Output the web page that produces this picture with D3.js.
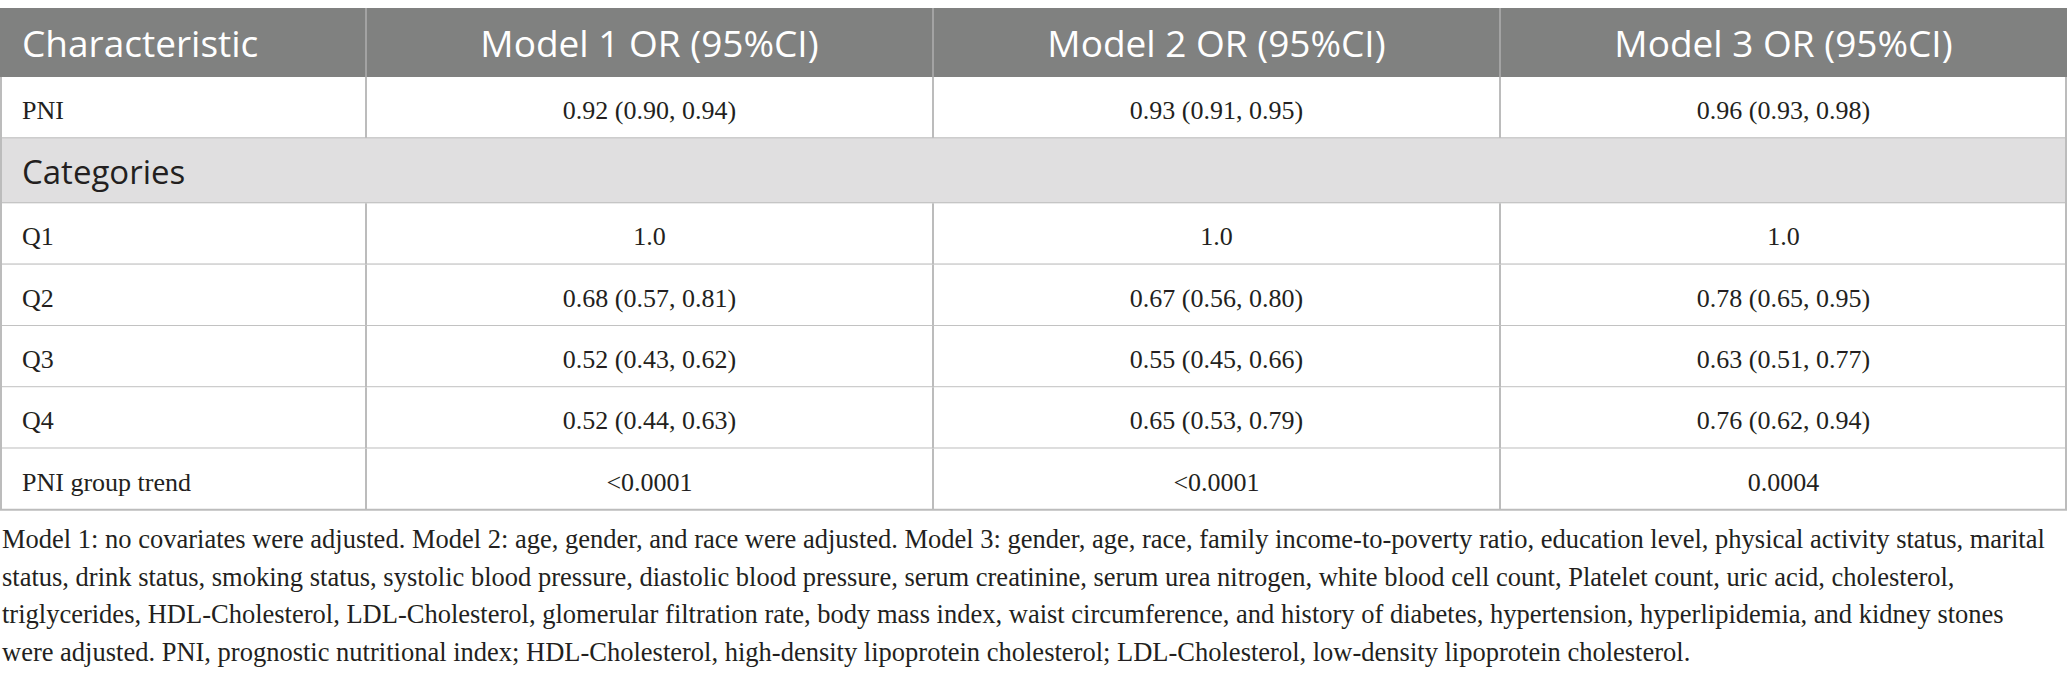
<!DOCTYPE html>
<html>
<head>
<meta charset="utf-8">
<script src="https://cdn.jsdelivr.net/npm/d3@7"></script>
<style>
  html, body { margin: 0; padding: 0; background: #fff; }
</style>
</head>
<body>
<div class="orTable"></div>
<script>
// column headers
let headers = ['Characteristic', 'Model 1 OR (95%CI)', 'Model 2 OR (95%CI)', 'Model 3 OR (95%CI)'];
let models = ['Model 1', 'Model 2', 'Model 3'];

// row labels
let rowLabels = ['PNI', 'Categories', 'Q1', 'Q2', 'Q3', 'Q4', 'PNI group trend'];

// odds ratio, lower and upper CI per row, one entry per model
let pniOR = [[0.92, 0.90, 0.94], [0.93, 0.91, 0.95], [0.96, 0.93, 0.98]];
let q1OR = [[1.0], [1.0], [1.0]];
let q2OR = [[0.68, 0.57, 0.81], [0.67, 0.56, 0.80], [0.78, 0.65, 0.95]];
let q3OR = [[0.52, 0.43, 0.62], [0.55, 0.45, 0.66], [0.63, 0.51, 0.77]];
let q4OR = [[0.52, 0.44, 0.63], [0.65, 0.53, 0.79], [0.76, 0.62, 0.94]];
let trendP = ['<0.0001', '<0.0001', '0.0004'];

let footnote = [
  'Model 1: no covariates were adjusted. Model 2: age, gender, and race were adjusted. Model 3: gender, age, race, family income-to-poverty ratio, education level, physical activity status, marital',
  'status, drink status, smoking status, systolic blood pressure, diastolic blood pressure, serum creatinine, serum urea nitrogen, white blood cell count, Platelet count, uric acid, cholesterol,',
  'triglycerides, HDL-Cholesterol, LDL-Cholesterol, glomerular filtration rate, body mass index, waist circumference, and history of diabetes, hypertension, hyperlipidemia, and kidney stones',
  'were adjusted. PNI, prognostic nutritional index; HDL-Cholesterol, high-density lipoprotein cholesterol; LDL-Cholesterol, low-density lipoprotein cholesterol.'
];

let f2 = d3.format('.2f');
let fmtOR = d => d.length === 1 ? d3.format('.1f')(d[0]) : `${f2(d[0])} (${f2(d[1])}, ${f2(d[2])})`;

let cells = [
  pniOR.map(fmtOR),
  null,
  q1OR.map(fmtOR),
  q2OR.map(fmtOR),
  q3OR.map(fmtOR),
  q4OR.map(fmtOR),
  trendP
];

const W = 2067, H = 679;
const topY = 8, headH = 69, rowH = 61.3, catH = 65, firstW = 366;
const gridColor = '#bcbcbc', ink = '#231f20';

let svg = d3.select('.orTable')
  .append('svg')
  .attr('width', W)
  .attr('height', H);

// row tops
let rowHeights = rowLabels.map(l => l === 'Categories' ? catH : rowH);
let rowTops = [];
rowHeights.reduce((acc, h, i) => { rowTops[i] = acc; return acc + h; }, topY + headH);
let tableBottom = rowTops[rowTops.length - 1] + rowH;

let xModel = d3.scaleBand()
  .domain(models)
  .range([firstW, W]);

// header
svg.append('rect')
  .attr('x', 0).attr('y', topY)
  .attr('width', W).attr('height', headH)
  .attr('fill', '#808180');

svg.selectAll('.hdiv')
  .data(models)
  .enter().append('line')
  .attr('x1', d => xModel(d)).attr('x2', d => xModel(d))
  .attr('y1', topY).attr('y2', topY + headH)
  .attr('stroke', '#a3a3a3').attr('stroke-width', 2);

svg.append('text')
  .attr('x', 22).attr('y', topY + 49)
  .attr('font-family', 'Open Sans')
  .attr('font-size', 37)
  .attr('fill', '#fff')
  .text(headers[0]);

svg.selectAll('.htext')
  .data(models)
  .enter().append('text')
  .attr('x', d => xModel(d) + xModel.bandwidth() / 2)
  .attr('y', topY + 49)
  .attr('text-anchor', 'middle')
  .attr('font-family', 'Open Sans')
  .attr('font-size', 37)
  .attr('fill', '#fff')
  .text((d, i) => headers[i + 1]);

// body rows
let rows = svg.selectAll('.row')
  .data(rowLabels)
  .enter().append('g')
  .attr('transform', (d, i) => `translate(0,${rowTops[i]})`);

rows.append('rect')
  .attr('x', 0).attr('y', 0)
  .attr('width', W)
  .attr('height', (d, i) => rowHeights[i])
  .attr('fill', d => d === 'Categories' ? '#e0dfe0' : '#fff');

rows.append('line')
  .attr('x1', 0).attr('x2', W)
  .attr('y1', (d, i) => rowHeights[i]).attr('y2', (d, i) => rowHeights[i])
  .attr('stroke', gridColor).attr('stroke-width', 2);

rows.append('text')
  .attr('x', 22)
  .attr('y', (d, i) => rowHeights[i] / 2 + (d === 'Categories' ? 13 : 11.5))
  .attr('font-family', d => d === 'Categories' ? 'Open Sans' : 'Liberation Serif')
  .attr('font-size', d => d === 'Categories' ? 33 : 26)
  .attr('fill', ink)
  .text(d => d);

rows.filter((d, i) => cells[i] !== null).each(function (d) {
  let idx = rowLabels.indexOf(d);
  let g = d3.select(this);
  g.selectAll('.vdiv')
    .data(models)
    .enter().append('line')
    .attr('x1', m => xModel(m)).attr('x2', m => xModel(m))
    .attr('y1', 0).attr('y2', rowH)
    .attr('stroke', gridColor).attr('stroke-width', 2);
  g.selectAll('.val')
    .data(cells[idx])
    .enter().append('text')
    .attr('x', (v, j) => xModel(models[j]) + xModel.bandwidth() / 2)
    .attr('y', rowH / 2 + 11.5)
    .attr('text-anchor', 'middle')
    .attr('font-family', 'Liberation Serif')
    .attr('font-size', 26)
    .attr('fill', ink)
    .text(v => v);
});

// outer side borders
[1, W - 1].forEach(x => {
  svg.append('line')
    .attr('x1', x).attr('x2', x)
    .attr('y1', topY + headH).attr('y2', tableBottom)
    .attr('stroke', gridColor).attr('stroke-width', 2);
});

// footnote
svg.selectAll('.note')
  .data(footnote)
  .enter().append('text')
  .attr('x', 2)
  .attr('y', (d, i) => tableBottom + 38 + i * 37.7)
  .attr('font-family', 'Liberation Serif')
  .attr('font-size', 26.5)
  .attr('fill', ink)
  .text(d => d);
</script>
</body>
</html>
